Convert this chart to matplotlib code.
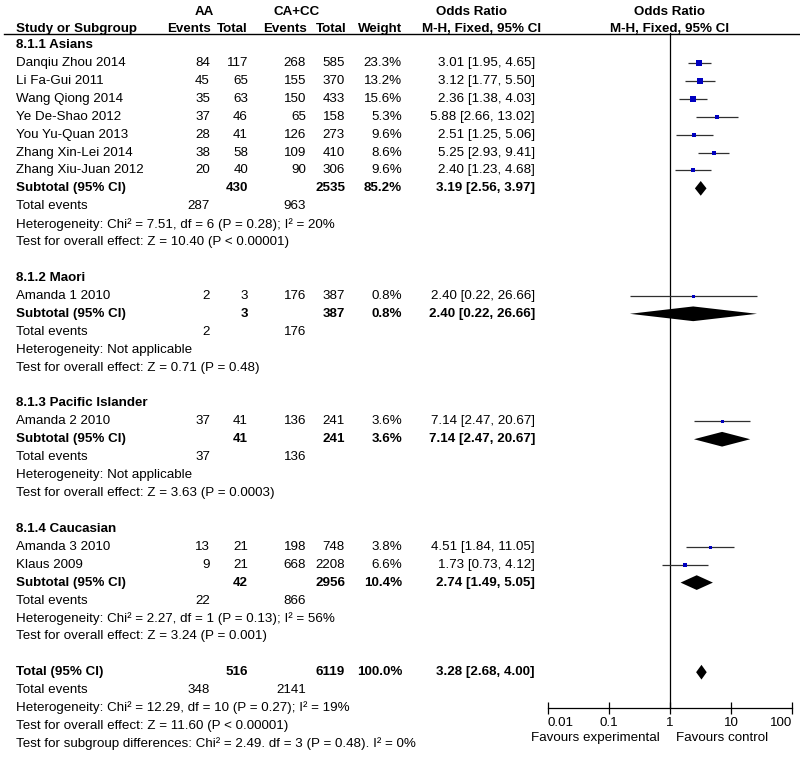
import matplotlib
matplotlib.use('Agg')
import matplotlib.pyplot as plt

plt.rcParams['font.family'] = ['Liberation Sans', 'DejaVu Sans']

# ---------------- data ----------------
group_names = ['8.1.1 Asians', '8.1.2 Maori', '8.1.3 Pacific Islander', '8.1.4 Caucasian']
study_names = ['Danqiu Zhou 2014', 'Li Fa-Gui 2011', 'Wang Qiong 2014', 'Ye De-Shao 2012',
               'You Yu-Quan 2013', 'Zhang Xin-Lei 2014', 'Zhang Xiu-Juan 2012',
               'Amanda 1 2010', 'Amanda 2 2010', 'Amanda 3 2010', 'Klaus 2009']
study_group = [0, 0, 0, 0, 0, 0, 0, 1, 2, 3, 3]
aa_events = [84, 45, 35, 37, 28, 38, 20, 2, 37, 13, 9]
aa_total = [117, 65, 63, 46, 41, 58, 40, 3, 41, 21, 21]
cc_events = [268, 155, 150, 65, 126, 109, 90, 176, 136, 198, 668]
cc_total = [585, 370, 433, 158, 273, 410, 306, 387, 241, 748, 2208]
weights = [23.3, 13.2, 15.6, 5.3, 9.6, 8.6, 9.6, 0.8, 3.6, 3.8, 6.6]
or_est = [3.01, 3.12, 2.36, 5.88, 2.51, 5.25, 2.40, 2.40, 7.14, 4.51, 1.73]
or_lo = [1.95, 1.77, 1.38, 2.66, 1.25, 2.93, 1.23, 0.22, 2.47, 1.84, 0.73]
or_hi = [4.65, 5.50, 4.03, 13.02, 5.06, 9.41, 4.68, 26.66, 20.67, 11.05, 4.12]

sub_aa_total = [430, 3, 41, 42]
sub_cc_total = [2535, 387, 241, 2956]
sub_aa_events = [287, 2, 37, 22]
sub_cc_events = [963, 176, 136, 866]
sub_weight = [85.2, 0.8, 3.6, 10.4]
sub_or = [3.19, 2.40, 7.14, 2.74]
sub_lo = [2.56, 0.22, 2.47, 1.49]
sub_hi = [3.97, 26.66, 20.67, 5.05]
sub_het = ['Heterogeneity: Chi\u00b2 = 7.51, df = 6 (P = 0.28); I\u00b2 = 20%',
           'Heterogeneity: Not applicable',
           'Heterogeneity: Not applicable',
           'Heterogeneity: Chi\u00b2 = 2.27, df = 1 (P = 0.13); I\u00b2 = 56%']
sub_test = ['Test for overall effect: Z = 10.40 (P < 0.00001)',
            'Test for overall effect: Z = 0.71 (P = 0.48)',
            'Test for overall effect: Z = 3.63 (P = 0.0003)',
            'Test for overall effect: Z = 3.24 (P = 0.001)']

tot_aa_total = 516
tot_cc_total = 6119
tot_weight = 100.0
tot_or, tot_lo, tot_hi = 3.28, 2.68, 4.00
tot_aa_events = 348
tot_cc_events = 2141
tot_het = 'Heterogeneity: Chi\u00b2 = 12.29, df = 10 (P = 0.27); I\u00b2 = 19%'
tot_test = 'Test for overall effect: Z = 11.60 (P < 0.00001)'
tot_subdiff = 'Test for subgroup differences: Chi\u00b2 = 2.49. df = 3 (P = 0.48). I\u00b2 = 0%'

x_ticks = [0.01, 0.1, 1, 10, 100]
x_ticklabels = ['0.01', '0.1', '1', '10', '100']

# ---------------- layout ----------------
W, H = 800, 759
ROW0, DR = 45.0, 17.92          # pixel y of row 0 and row spacing
def px2row(p):
    return (p - ROW0) / DR

FS = 9.6
BLUE = '#0000C0'
LINEC = '#303030'

fig = plt.figure(figsize=(W / 100, H / 100), dpi=100)
tab = fig.add_axes([0, 0, 1, 1])
tab.set_xlim(0, W)
tab.set_ylim(px2row(H), px2row(0))
tab.axis('off')

# forest axes
AX_L, AX_R, AX_T, AX_B = 548, 792, 33, 708
fax = fig.add_axes([AX_L / W, 1 - AX_B / H, (AX_R - AX_L) / W, (AX_B - AX_T) / H])
fax.set_xscale('log')
fax.set_xlim(0.01, 100)
fax.set_ylim(px2row(AX_B), px2row(AX_T))
fax.patch.set_alpha(0)
for s in ['left', 'right', 'top']:
    fax.spines[s].set_visible(False)
fax.spines['bottom'].set_linewidth(0.9)
fax.set_yticks([])
fax.set_xticks(x_ticks)
fax.set_xticklabels(x_ticklabels)
fax.minorticks_off()
fax.tick_params(axis='x', direction='inout', length=9, width=0.9, pad=2, labelsize=FS)
xtl = fax.get_xticklabels()
xtl[0].set_ha('left')
xtl[-1].set_ha('right')
fax.axvline(1, color='black', lw=0.9)

# column right edges (pixels)
C_AE, C_AT, C_CE, C_CT, C_W, C_OR = 210, 248, 306, 345, 402, 535
X_NAME = 16

def t(x, r, s, ha='left', bold=False, **kw):
    tab.text(x, r, s, ha=ha, va='center', fontsize=FS,
             fontweight='bold' if bold else 'normal', **kw)

# header
rh1, rh2 = px2row(12), px2row(29)
t(204, rh1, 'AA', ha='center', bold=True)
t(297, rh1, 'CA+CC', ha='center', bold=True)
t(471, rh1, 'Odds Ratio', ha='center', bold=True)
t(669, rh1, 'Odds Ratio', ha='center', bold=True)
t(X_NAME, rh2, 'Study or Subgroup', bold=True)
t(211, rh2, 'Events', ha='right', bold=True)
t(248, rh2, 'Total', ha='right', bold=True)
t(307, rh2, 'Events', ha='right', bold=True)
t(347, rh2, 'Total', ha='right', bold=True)
t(402, rh2, 'Weight', ha='right', bold=True)
t(482, rh2, 'M-H, Fixed, 95% CI', ha='center', bold=True)
t(670, rh2, 'M-H, Fixed, 95% CI', ha='center', bold=True)
tab.plot([4, W], [px2row(33.5), px2row(33.5)], color='black', lw=1.0)

def fmt_or(o, l, h):
    return f'{o:.2f} [{l:.2f}, {h:.2f}]'

def diamond(o, l, h, r, hh=0.41):
    fax.fill([l, o, h, o], [r, r - hh, r, r + hh], color='black', lw=0, clip_on=False)

r = 0
for g, gname in enumerate(group_names):
    t(X_NAME, r, gname, bold=True)
    r += 1
    for i in range(len(study_names)):
        if study_group[i] != g:
            continue
        t(X_NAME, r, study_names[i])
        t(C_AE, r, str(aa_events[i]), ha='right')
        t(C_AT, r, str(aa_total[i]), ha='right')
        t(C_CE, r, str(cc_events[i]), ha='right')
        t(C_CT, r, str(cc_total[i]), ha='right')
        t(C_W, r, f'{weights[i]:.1f}%', ha='right')
        t(C_OR, r, fmt_or(or_est[i], or_lo[i], or_hi[i]), ha='right')
        fax.hlines(r, or_lo[i], or_hi[i], color=LINEC, lw=0.9)
        side_px = max(3.0, 1.4 * weights[i] ** 0.5)
        fax.plot(or_est[i], r, marker='s', ms=side_px * 0.72, color=BLUE, mec=BLUE, mew=0)
        r += 1
    t(X_NAME, r, 'Subtotal (95% CI)', bold=True)
    t(C_AT, r, str(sub_aa_total[g]), ha='right', bold=True)
    t(C_CT, r, str(sub_cc_total[g]), ha='right', bold=True)
    t(C_W, r, f'{sub_weight[g]:.1f}%', ha='right', bold=True)
    t(C_OR, r, fmt_or(sub_or[g], sub_lo[g], sub_hi[g]), ha='right', bold=True)
    diamond(sub_or[g], sub_lo[g], sub_hi[g], r)
    r += 1
    t(X_NAME, r, 'Total events')
    t(C_AE, r, str(sub_aa_events[g]), ha='right')
    t(C_CE, r, str(sub_cc_events[g]), ha='right')
    r += 1
    t(X_NAME, r, sub_het[g])
    r += 1
    t(X_NAME, r, sub_test[g])
    r += 2

t(X_NAME, r, 'Total (95% CI)', bold=True)
t(C_AT, r, str(tot_aa_total), ha='right', bold=True)
t(C_CT, r, str(tot_cc_total), ha='right', bold=True)
t(C_W, r, f'{tot_weight:.1f}%', ha='right', bold=True)
t(C_OR, r, fmt_or(tot_or, tot_lo, tot_hi), ha='right', bold=True)
diamond(tot_or, tot_lo, tot_hi, r)
r += 1
t(X_NAME, r, 'Total events')
t(C_AE, r, str(tot_aa_events), ha='right')
t(C_CE, r, str(tot_cc_events), ha='right')
r += 1
t(X_NAME, r, tot_het)
r += 1
t(X_NAME, r, tot_test)
r += 1
t(X_NAME, r, tot_subdiff)

rf = px2row(738)
t(660, rf, 'Favours experimental', ha='right')
t(676, rf, 'Favours control', ha='left')

fig.savefig('out.png', dpi=100)
